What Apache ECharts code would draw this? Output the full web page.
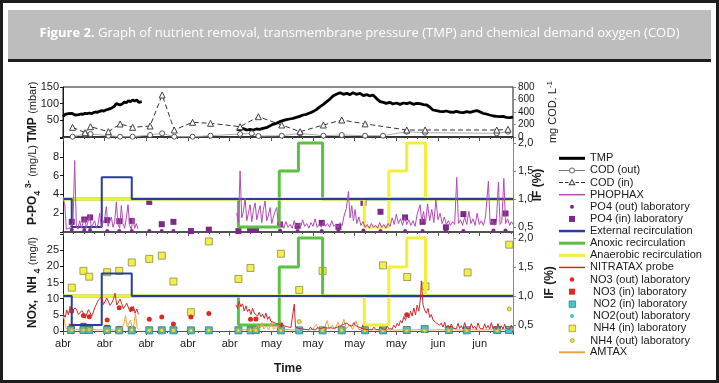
<!DOCTYPE html>
<html>
<head>
<meta charset="utf-8">
<script src="https://cdn.jsdelivr.net/npm/echarts@6/dist/echarts.min.js"></script>
<style>
html, body { margin: 0; padding: 0; background: #fff; }
#chart { width: 719px; height: 383px; }
</style>
</head>
<body>
<div id="chart"></div>
<script>
var myChart = echarts.init(document.getElementById('chart'));

// x positions are days from the first 'abr' tick
var tickLabels = ['abr', 'abr', 'abr', 'abr', 'abr', 'may', 'may', 'may', 'may', 'jun', 'jun'];

// TMP (mbar), two probe periods
var tmp1 = [[0,61],[0.5,68],[0.9,72],[1.3,70],[1.7,73],[2.1,71],[2.5,68],[2.9,66],[3.3,64],[3.8,67],[4.3,69],[4.8,68],[5.3,71],[5.8,70],[6.3,72],[6.8,70],[7.3,73],[7.8,75],[8.3,74],[8.8,77],[9.3,79],[9.8,78],[10.3,81],[10.8,83],[11.3,85],[11.8,88],[12.3,92],[12.8,100],[13.2,94],[13.7,96],[14.2,99],[14.7,105],[15.2,103],[15.7,109],[16.2,106],[16.7,111],[17.2,108],[17.7,111],[18.2,104],[18.9,106]];
var tmp2 = [[41.7,23],[42.5,22],[43.3,25],[44.1,21],[44.9,23],[45.6,21],[46.4,24],[47.2,23],[48,26],[48.8,28],[49.6,33],[50.4,38],[51.2,41],[52,46],[52.8,49],[53.6,52],[54.4,54],[55.2,56],[56,59],[56.8,62],[57.6,66],[58.4,68],[59.2,72],[60,76],[60.8,82],[61.7,91],[62.5,98],[63.3,106],[64,113],[64.8,123],[65.6,128],[66.5,133],[67.3,128],[68.1,131],[68.9,127],[69.6,133],[70.4,128],[71.3,131],[72.1,124],[72.9,127],[73.7,123],[74.4,126],[75.2,116],[76.1,106],[76.9,104],[77.6,101],[78.4,104],[79.2,99],[80,102],[80.9,98],[81.7,102],[82.5,100],[83.3,103],[84.1,98],[84.9,101],[85.7,100],[86.5,97],[87.3,96],[88,90],[88.8,81],[89.6,79],[90.4,77],[91.2,76],[92,78],[92.8,75],[93.6,74],[94.4,77],[95.3,74],[96.1,73],[96.9,76],[97.7,74],[98.5,77],[99.3,79],[100,76],[100.8,71],[101.6,69],[102.4,66],[103.3,63],[104.1,62],[104.9,61],[105.6,62],[106.4,59],[107.3,58],[108,60]];

// COD (mg/L)
var codIn = [[2.3,155],[5.3,69],[6.6,165],[10.9,85],[13.7,208],[16.7,155],[20.9,176],[23.8,672],[26.7,112],[31.1,235],[35.4,219],[42.5,165],[46.9,325],[52.5,192],[56.9,85],[62.5,192],[66.9,272],[72.5,210],[82.5,112],[86.9,112],[104.1,112],[106.8,123]];
var codOut = [[2.3,5],[5.3,48],[6.6,48],[10.9,21],[13.7,5],[16.7,5],[20.9,32],[23.8,59],[26.7,5],[31.1,5],[35.4,21],[42.5,48],[45.3,59],[46.9,16],[52.5,21],[56.9,59],[62.5,21],[66.9,32],[72.5,21],[76.8,21],[82.5,85],[86.9,69],[104.1,59],[106.8,85]];

// PHOPHAX probe P-PO4 (mg/L)
var phophax1 = [[0,3.6],[0.4,3.0],[0.8,0.3],[1.2,0.2],[1.6,0.4],[2.0,0.3],[2.4,1.0],[2.8,7.6],[3.2,0.6],[3.6,0.3],[4.0,1.2],[4.4,0.4],[4.8,0.3],[5.2,1.5],[5.6,0.4],[6.0,0.6],[6.4,1.8],[6.8,0.5],[7.2,0.3],[7.6,1.2],[8.0,0.4],[8.4,0.8],[8.8,2.0],[9.2,0.5],[9.6,0.3],[10.0,1.4],[10.4,2.7],[10.8,0.6],[11.2,0.4],[11.6,1.6],[12.0,0.5],[12.4,1.1],[12.8,3.2],[13.2,0.8],[13.6,0.4],[14.0,2.8],[14.4,0.9],[14.8,0.4],[15.2,1.5],[15.6,2.9],[16.0,0.7],[16.4,0.3],[16.8,1.5],[17.2,0.4],[17.6,0.9],[18.0,0.3]];
var phophax2 = [[41.7,2.0],[42.1,1.0],[42.5,6.5],[42.9,1.5],[43.3,2.2],[43.7,3.6],[44.1,1.2],[44.5,2.0],[44.9,2.9],[45.3,1.1],[45.7,2.3],[46.1,3.1],[46.5,1.3],[46.9,2.1],[47.3,2.8],[47.7,1.0],[48.1,2.4],[48.5,3.3],[48.9,1.2],[49.3,1.8],[49.7,2.6],[50.1,0.9],[50.5,1.6],[50.9,2.2],[51.3,2.6],[51.7,0.7],[52.1,0.5],[52.5,0.9],[53.0,0.4],[53.5,1.1],[54.0,0.5],[54.5,0.8],[55.0,0.4],[55.5,1.2],[56.0,0.6],[56.5,0.9],[57.0,0.5],[57.5,1.3],[58.0,0.6],[58.5,0.9],[59.0,0.4],[59.5,1.0],[60.0,0.6],[60.5,1.4],[61.0,0.5],[61.5,0.8],[62.0,0.5],[62.5,1.1],[63.0,0.6],[63.5,0.9],[64.0,0.5],[64.5,1.2],[65.0,0.6],[65.5,0.8],[66.0,0.4],[66.5,1.0],[67.0,0.7],[67.5,1.8],[68.0,2.5],[68.5,4.3],[68.9,1.5],[69.3,2.8],[69.7,1.2],[70.1,2.4],[70.5,0.9],[71.0,1.6],[71.5,0.7],[72.0,1.1],[72.5,0.5],[73.0,0.8],[73.5,0.4],[74.0,0.9],[74.5,0.5],[75.0,0.7],[75.5,0.4],[76.0,1.0],[76.5,0.5],[77.0,0.8],[77.5,0.4],[78.0,0.9],[78.5,0.6],[79.0,1.5],[79.5,0.8],[80.0,1.9],[80.5,0.9],[81.0,1.4],[81.5,0.7],[82.0,1.6],[82.5,0.8],[83.0,1.3],[83.5,0.7],[84.0,1.2],[84.5,0.6],[85.0,1.9],[85.7,2.9],[86.1,1.0],[86.5,2.2],[87.0,0.9],[87.5,3.0],[88.0,1.2],[88.5,2.4],[89.0,1.0],[89.5,3.4],[90.0,1.3],[90.5,2.0],[91.0,0.9],[91.5,1.6],[92.0,0.8],[92.5,1.2],[93.0,0.7],[93.5,1.1],[94.0,0.8],[94.5,5.8],[94.9,0.9],[95.4,1.3],[95.9,0.7],[96.4,1.6],[96.9,0.8],[97.4,2.2],[97.9,0.9],[98.4,1.4],[98.9,0.7],[99.4,2.0],[99.9,0.8],[100.4,1.2],[100.9,0.7],[101.4,1.6],[102.1,5.4],[102.5,0.8],[103.0,1.2],[103.5,0.7],[104.0,1.0],[104.5,5.3],[104.9,0.8],[105.3,1.1],[105.8,5.7],[106.2,0.9],[106.7,1.4],[107.2,0.7],[107.6,1.1],[108,0.8]];

// laboratory P-PO4 (mg/L)
var po4In = [[2.1,1.08],[5.1,1.33],[6.5,1.55],[10.6,1.26],[13.5,1.15],[16.5,1.18],[20.7,3.2],[23.7,0.83],[26.5,1.08],[30.7,0.1],[35,0.25],[42.1,0.1],[44.9,0.2],[46.3,0.27],[52.1,0.8],[56.3,0.65],[62.1,0.97],[66.1,0.55],[72.1,3.1],[76.2,2.15],[82.1,1.55],[86.3,1.08],[91.9,0.5],[96.1,1.9],[103.3,1.08],[106.2,1.97]];
var po4Out = [[2.1,0.25],[5.1,0.2],[6.5,0.2],[10.6,0.1],[13.5,0.1],[16.5,0.1],[20.7,0.1],[23.7,0.1],[26.5,0.1],[30.7,0.1],[35,0.2],[42.1,0.15],[44.9,0.1],[46.3,0.2],[52.1,0.15],[56.3,0.1],[62.1,0.1],[66.1,0.1],[72.1,0.15],[76.2,0.1],[82.1,0.1],[86.3,0.1],[91.9,0.1],[96.1,0.1],[103.3,0.15],[106.2,0.15]];

// recirculation flows IF (%), change days and level after each change
var extDays = [0, 2.1, 9.3, 16.5, 108];
var extIF = [1.0, 0.5, 1.39, 1.0, 1.0];
var anoxDays = [0, 42.1, 51.9, 56.5, 62.3, 108];
var anoxIF = [1.0, 0.5, 1.5, 2.0, 1.0, 1.0];
var anaerDays = [0, 72.3, 78.2, 82.5, 87.0, 108];
var anaerIF = [1.0, 0.5, 1.5, 2.0, 1.0, 1.0];

// NITRATAX probe NOx (mg/L)
var nitratax1 = [[0,5.5],[0.5,4.2],[0.9,6.5],[1.3,5.0],[1.7,7.6],[2.1,5.8],[2.5,5.6],[2.9,7.2],[3.3,6.5],[3.7,5.1],[4.1,4.8],[4.5,6.3],[4.9,5.6],[5.3,3.9],[5.7,4.3],[6.1,6.6],[6.5,6.0],[6.9,4.6],[7.3,4.8],[7.7,7.4],[8.1,7.0],[8.5,9.6],[8.9,9.6],[9.3,10.6],[9.7,8.2],[10.1,8.7],[10.5,10.2],[10.9,10.6],[11.3,7.9],[11.7,8.7],[12.1,9.8],[12.5,11.7],[12.9,8.0],[13.3,8.3],[13.7,9.9],[14.1,9.3],[14.5,6.9],[14.9,7.2],[15.3,8.6],[15.7,8.3],[16.1,5.9],[16.5,6.4],[16.9,7.6],[17.3,5.5],[17.7,6.8],[18.1,5.2]];
var nitratax2 = [[41.5,8.1],[41.9,7.0],[42.3,9.1],[42.7,7.5],[43.1,8.4],[43.5,6.2],[43.9,7.8],[44.3,6.0],[44.7,6.8],[45.1,5.1],[45.5,7.0],[45.9,5.5],[46.3,6.1],[46.7,4.6],[47.1,5.8],[47.5,4.4],[47.9,5.2],[48.3,3.9],[48.7,5.5],[49.1,3.6],[49.5,4.5],[49.9,3.0],[50.3,3.4],[50.7,2.6],[51.1,3.1],[51.5,2.2],[51.9,2.7],[52.3,1.9],[52.7,2.4],[53.1,1.6],[53.5,2.0],[53.9,1.3],[54.3,1.8],[54.7,1.1],[55.1,1.5],[55.5,8.3],[55.8,1.2],[56.2,1.6],[56.6,0.8],[57.0,1.3],[57.4,0.6],[57.8,1.1],[58.2,0.5],[58.6,0.9],[59.0,0.4],[59.4,1.2],[59.8,0.5],[60.2,0.9],[60.6,0.3],[61.0,1.0],[61.4,0.5],[61.8,0.8],[62.2,0.3],[62.6,1.1],[63.0,0.5],[63.4,0.9],[63.8,0.4],[64.2,1.0],[64.6,0.5],[65.0,0.8],[65.4,0.6],[65.8,1.2],[66.2,0.9],[66.6,1.6],[67.0,1.2],[67.4,2.1],[67.8,1.6],[68.2,2.5],[68.6,1.8],[69.0,2.3],[69.4,1.5],[69.8,2.6],[70.2,1.7],[70.6,2.0],[71.0,1.2],[71.4,1.5],[71.8,0.8],[72.2,1.2],[72.6,0.5],[73.0,0.9],[73.4,0.4],[73.8,0.8],[74.2,0.4],[74.6,1.2],[75.0,0.5],[75.4,0.9],[75.8,0.4],[76.2,1.3],[76.6,0.6],[77.0,1.0],[77.4,0.5],[77.8,1.5],[78.2,0.7],[78.6,1.1],[79.0,0.6],[79.4,1.8],[79.8,1.0],[80.2,2.4],[80.6,1.6],[81.0,3.2],[81.4,2.5],[81.8,4.5],[82.2,3.3],[82.6,5.5],[83.0,4.0],[83.4,6.2],[83.8,4.6],[84.2,7.1],[84.6,5.0],[85.0,8.0],[85.4,6.1],[85.8,10.2],[86.0,15.5],[86.4,8.1],[86.8,6.4],[87.2,5.5],[87.6,7.0],[88.0,4.2],[88.4,5.1],[88.8,3.4],[89.2,4.0],[89.6,2.5],[90.0,3.1],[90.4,1.8],[90.8,2.5],[91.2,1.2],[91.6,2.7],[92.0,1.0],[92.4,1.8],[92.8,0.8],[93.2,2.2],[93.6,0.9],[94.0,1.5],[94.4,0.7],[94.8,2.4],[95.2,0.8],[95.6,1.6],[96.0,0.6],[96.4,2.6],[96.8,0.9],[97.2,1.4],[97.6,0.6],[98.0,2.3],[98.4,0.8],[98.8,1.5],[99.2,0.5],[99.6,2.5],[100.0,0.9],[100.4,1.3],[100.8,0.6],[101.2,2.2],[101.6,0.8],[102.0,1.7],[102.4,0.6],[102.8,2.6],[103.2,0.7],[103.6,1.4],[104.0,0.5],[104.4,2.3],[104.8,0.8],[105.2,1.6],[105.6,0.6],[106.0,2.1],[106.4,0.7],[106.8,1.2],[107.2,0.5],[107.6,1.8],[108.0,1.0]];

// AMTAX probe NH4 (mg/L)
var amtax1 = [[0,4.7],[0.3,3.6],[0.6,1.2],[1.0,0.4],[2,0.3],[3,0.5],[4,0.3],[5,0.4],[6,0.3],[7,0.6],[8,0.3],[9,0.4],[10,0.3],[11,0.5],[12,0.3],[13,0.4],[14,0.6],[14.6,2.2],[15.0,4.8],[15.4,1.2],[15.8,0.6],[16.2,3.4],[16.6,0.8],[17.0,2.0],[17.4,5.3],[17.8,1.0],[18.2,0.4]];
var amtax2 = [[41.5,0.3],[43,0.4],[44.5,0.3],[46,0.6],[46.8,1.8],[47.2,0.5],[47.8,2.6],[48.2,0.6],[48.8,1.5],[49.4,0.4],[50.0,2.9],[50.5,0.5],[51.2,1.6],[52,0.4],[53,0.3],[54,0.5],[55,0.3],[56,0.4],[57,0.3],[58,0.5],[59,0.3],[60,0.6],[60.8,2.1],[61.3,0.5],[62,1.4],[62.6,0.4],[63.4,3.2],[63.9,0.6],[64.6,1.8],[65.2,0.5],[66,2.7],[66.6,0.6],[67.4,3.6],[68,0.7],[68.8,2.0],[69.5,0.5],[70.3,3.1],[71,0.5],[72,0.3],[74,0.4],[76,0.3],[78,0.4],[80,0.3],[82,0.4],[84,0.3],[86,0.5],[88,0.3],[90,0.4],[92,0.3],[94,0.4],[96,0.3],[98,0.4],[100,0.3],[102,0.4],[104,0.3],[106,0.5],[108,0.4]];

// laboratory N (mg/L)
var nh4In = [[2.1,13.4],[4.9,18.6],[6.3,16.8],[10.6,18.2],[13.5,18.6],[16.5,21.2],[20.7,22.3],[23.7,23.3],[26.5,15.3],[30.7,5.8],[35,27.7],[42.1,16.1],[45,19.5],[52.3,23.9],[56.7,12.7],[62.3,18.6],[76.8,20.3],[82.6,16.7],[87,13.8],[97.1,18.1],[107.1,26.7]];
var nh4Out = [[2.1,0.3],[4.9,0.3],[6.3,0.4],[10.6,0.2],[13.5,0.2],[16.5,0.3],[20.7,0.2],[23.7,0.2],[26.5,0.2],[30.7,0.2],[35,0.2],[42.1,0.2],[45,0.3],[46.3,0.2],[52.3,0.2],[56.7,2.9],[62.3,0.2],[66.9,0.2],[72.5,0.2],[76.8,0.2],[82.5,0.2],[86.8,0.2],[92.6,0.2],[96.9,0.2],[104.2,0.2],[107.1,6.8]];
var no3Out = [[2.1,6.2],[4.9,4.8],[6.3,4.4],[10.6,3.4],[13.5,7.2],[16.5,6.8],[20.7,3.6],[23.7,4.3],[26.5,2.2],[30.7,4.3],[35,5.4],[42.1,0.5],[45,3.6],[46.3,3.7],[52.3,1.9],[56.7,0.4],[62.3,0.3],[66.9,0.8],[72.5,0.8],[76.8,0.5],[82.5,5.0],[86.8,0.6],[92.6,0.4],[96.9,0.5],[104.2,0.4],[107,0.5]];
var no3In = [[2.1,1.3],[4.9,1.6],[6.3,0.9],[10.6,1.0],[13.5,0.6],[16.5,0.5],[20.7,0.4],[23.7,0.4],[26.5,0.4],[30.7,0.3],[35,0.3],[42.1,0.4],[45,0.8],[46.3,1.0],[52.3,0.3],[56.7,0.3],[62.3,0.3],[66.9,0.3],[72.5,1.0],[76.8,0.4],[82.5,0.4],[86.8,0.5],[92.6,0.4],[96.9,0.4],[104.2,0.4],[107,0.4]];
var no2In = [[1.9,0.3],[4.9,0.3],[6.3,0.3],[10.6,0.3],[13.5,0.2],[16.5,0.2],[20.7,0.2],[23.7,0.2],[26.5,0.2],[30.7,0.2],[35,0.2],[42.1,0.2],[45,0.2],[46.3,0.3],[52.3,0.2],[56.7,0.2],[62.3,0.2],[66.9,0.2],[72.5,0.2],[76.8,0.2],[82.5,0.3],[86.8,0.6],[92.6,0.3],[96.9,0.2],[104.2,0.3],[107,0.3]];
var no2Out = [[1.9,0.1],[4.9,0.1],[6.3,0.1],[10.6,0.1],[13.5,0.1],[16.5,0.1],[20.7,0.1],[23.7,0.1],[26.5,0.1],[30.7,0.1],[35,0.1],[42.1,0.1],[45,0.1],[46.3,0.1],[52.3,0.1],[56.7,0.1],[62.3,0.1],[66.9,0.1],[72.5,0.1],[76.8,0.1],[82.5,0.1],[86.8,0.1],[92.6,0.1],[96.9,0.1],[104.2,0.1],[107,0.1]];

var gap = [[30, '-']];
function steps(days, vals) {
    return days.map(function (d, i) { return [d, vals[i]]; });
}
function fmtIF(v) { return v.toFixed(1).replace('.', ','); }

var font = 'Liberation Sans';
var ink = '#1a1a1a';
var blue = '#2b3d9c', green = '#5cc043', yellow = '#f2ef3a';
var magenta = '#b44bb6', purple = '#7b2a86', red = '#d92b22', redLine = '#cc2a2a';
var cyan = '#46c3cb', cyanEdge = '#2b7f88', nhYellow = '#f4ef45', nhEdge = '#8c8a55', orange = '#f0a346';

function xAx(grid, last) {
    return {
        gridIndex: grid, type: 'value', min: 0, max: 108, interval: 10,
        axisLine: { lineStyle: { color: last ? '#555' : ink, width: last ? 1 : 1.5 } },
        axisTick: { length: 4, lineStyle: { color: '#555' } },
        minorTick: { show: true, splitNumber: 4, length: 2, lineStyle: { color: '#555' } },
        splitLine: { show: false },
        axisLabel: last ? {
            fontFamily: font, fontSize: 11, color: ink, margin: 7, showMaxLabel: false,
            formatter: function (v) {
                var i = Math.round(v / 10);
                return Math.abs(v - i * 10) < 0.01 && tickLabels[i] ? tickLabels[i] : '';
            }
        } : { show: false },
        name: last ? 'Time' : '', nameLocation: 'middle', nameGap: 32, nameMoveOverlap: false,
        nameTextStyle: { fontFamily: font, fontSize: 12, fontWeight: 'bold', color: ink }
    };
}

var nameRich = {
    b: { fontFamily: font, fontSize: 12, fontWeight: 'bold', color: ink, lineHeight: 18 },
    n: { fontFamily: font, fontSize: 11, color: ink, lineHeight: 18 },
    sub: { fontFamily: font, fontSize: 9, fontWeight: 'bold', color: ink, lineHeight: 9, verticalAlign: 'bottom' },
    sup: { fontFamily: font, fontSize: 9, fontWeight: 'bold', color: ink, lineHeight: 9, verticalAlign: 'top' }
};

function leftY(grid, max, interval, name, hide) {
    return {
        gridIndex: grid, type: 'value', min: 0, max: max, interval: interval,
        axisLine: { show: true, lineStyle: { color: ink } },
        axisTick: { show: true, length: 3, lineStyle: { color: ink } },
        splitLine: { show: false },
        axisLabel: {
            fontFamily: font, fontSize: 11, color: ink, margin: 4,
            formatter: function (v) { return hide.indexOf(v) > -1 ? '' : v; }
        },
        name: name, nameLocation: 'middle', nameRotate: 90, nameGap: 21, nameMoveOverlap: false,
        nameTextStyle: { rich: nameRich }
    };
}

function rightIF(grid, min, max, gapName) {
    return {
        gridIndex: grid, type: 'value', position: 'right', min: min, max: max,
        axisLine: { show: true, lineStyle: { color: '#888' } },
        axisTick: { show: true, length: 3, lineStyle: { color: '#888' }, customValues: [0.5, 1, 1.5, 2] },
        splitLine: { show: false },
        axisLabel: { fontFamily: font, fontSize: 11, color: ink, margin: 5, customValues: [0.5, 1, 1.5, 2], formatter: fmtIF },
        name: '{b|IF (%)}', nameLocation: 'middle', nameRotate: 90, nameGap: gapName, nameMoveOverlap: false,
        nameTextStyle: { rich: { b: { fontFamily: font, fontSize: 12, fontWeight: 'bold', color: ink, lineHeight: 14 } } }
    };
}

function stepLine(name, days, vals, color, width, xi, yi) {
    return { name: name, type: 'line', xAxisIndex: xi, yAxisIndex: yi, step: 'end', symbol: 'none',
        data: steps(days, vals), lineStyle: { color: color, width: width }, itemStyle: { color: color } };
}
function probe(name, data, color, xi, yi) {
    return { name: name, type: 'line', xAxisIndex: xi, yAxisIndex: yi, symbol: 'none', data: data,
        lineStyle: { color: color, width: 1 }, itemStyle: { color: color } };
}
function dots(name, data, symbol, size, color, border, xi, yi) {
    return { name: name, type: 'scatter', xAxisIndex: xi, yAxisIndex: yi, symbol: symbol, symbolSize: size, data: data,
        itemStyle: { color: color, borderColor: border || color, borderWidth: border ? 0.8 : 0, opacity: 1 } };
}

// legend icons drawn in a 26x12 box so every row lines up the same way
function barIcon(t) {
    return 'path://M0,0M26,12M0,' + (6 - t / 2) + 'H26V' + (6 + t / 2) + 'H0Z';
}
function dotIcon(r) {
    return 'path://M0,0M26,12M' + (13 - r) + ',6a' + r + ',' + r + ' 0 1,0 ' + (2 * r) + ',0a' + r + ',' + r + ' 0 1,0 ' + (-2 * r) + ',0Z';
}
function squareIcon(s) {
    return 'path://M0,0M26,12M' + (13 - s / 2) + ',' + (6 - s / 2) + 'h' + s + 'v' + s + 'h' + (-s) + 'Z';
}
var codOutIcon = 'path://M0,0M26,12M0,5.5H10V6.5H0Z M16,5.5H26V6.5H16Z M10,6a3,3 0 1,0 6,0a3,3 0 1,0 -6,0Z M11,6a2,2 0 1,1 4,0a2,2 0 1,1 -4,0Z';
var codInIcon = 'path://M0,0M26,12M0,5.5H4V6.5H0Z M6,5.5H9.5V6.5H6Z M16.5,5.5H20V6.5H16.5Z M22,5.5H26V6.5H22Z M13,2.2L16.6,8.6L9.4,8.6Z M13,3.9L11.1,7.7L14.9,7.7Z';

var legendItems = [
    { name: 'TMP', icon: barIcon(3), color: '#000' },
    { name: 'COD (out)', icon: codOutIcon, color: '#777' },
    { name: 'COD (in)', icon: codInIcon, color: '#333' },
    { name: 'PHOPHAX', icon: barIcon(1.5), color: magenta },
    { name: 'PO4 (out) laboratory', icon: dotIcon(2), color: purple },
    { name: 'PO4 (in) laboratory', icon: squareIcon(6), color: purple },
    { name: 'External recirculation', icon: barIcon(2.5), color: blue },
    { name: 'Anoxic recirculation', icon: barIcon(3), color: green },
    { name: 'Anaerobic recirculation', icon: barIcon(3), color: yellow },
    { name: 'NITRATAX probe', icon: barIcon(1.5), color: redLine },
    { name: 'NO3 (out) laboratory', icon: dotIcon(2.2), color: red },
    { name: ' NO3 (in) laboratory', icon: squareIcon(6), color: red },
    { name: ' NO2 (in) laboratory', icon: squareIcon(6.5), color: cyan, border: cyanEdge },
    { name: ' NO2(out) laboratory', icon: dotIcon(2), color: cyan },
    { name: ' NH4 (in) laboratory', icon: squareIcon(6.5), color: nhYellow, border: nhEdge },
    { name: 'NH4 (out) laboratory', icon: dotIcon(2), color: '#ece432', border: '#9a9640' },
    { name: 'AMTAX', icon: barIcon(2), color: orange }
];
var legends = legendItems.map(function (it, i) {
    return {
        left: 559, top: 152.3 + i * 12.125, orient: 'vertical', padding: 0, itemGap: 0,
        itemWidth: 26, itemHeight: 12, selectedMode: false, symbolKeepAspect: false,
        icon: it.icon,
        itemStyle: { color: it.color, borderColor: it.border || it.color, borderWidth: it.border ? 0.7 : 0 },
        textStyle: { fontFamily: font, fontSize: 11, lineHeight: 12, color: ink },
        data: [it.name]
    };
});

var option = {
    animation: false,
    backgroundColor: '#fff',
    graphic: [
        { type: 'rect', z: 0, shape: { x: 1.5, y: 1.5, width: 716, height: 380 }, style: { fill: 'none', stroke: '#1c1c1c', lineWidth: 3 } },
        { type: 'rect', z: 0, shape: { x: 8, y: 10, width: 703, height: 49 }, style: { fill: '#bdbdbd' } },
        { type: 'rect', z: 0, shape: { x: 8, y: 59, width: 703, height: 3 }, style: { fill: '#1e1e1e' } }
    ],
    title: {
        text: '{b|Figure 2.} Graph of nutrient removal, transmembrane pressure (TMP) and chemical demand oxygen (COD)',
        left: 'center', top: 27, padding: 0,
        textStyle: {
            fontFamily: 'Open Sans', fontSize: 13, fontWeight: 'normal', color: '#fff',
            rich: { b: { fontFamily: 'Open Sans', fontSize: 13, fontWeight: 'bold', color: '#fff' } }
        }
    },
    legend: legends,
    grid: [
        { left: 63, top: 87, width: 450, height: 50, show: true, borderColor: ink, borderWidth: 1 },
        { left: 63, top: 138, width: 450, height: 94 },
        { left: 63, top: 234, width: 450, height: 97 }
    ],
    xAxis: [xAx(0, false), xAx(1, false), xAx(2, true)],
    yAxis: [
        leftY(0, 150, 50, '{b|TMP} {n|(mbar)}', [0]),
        {
            gridIndex: 0, type: 'value', position: 'right', min: 0, max: 800, interval: 200,
            axisLine: { show: true, lineStyle: { color: '#888' } },
            axisTick: { show: true, length: 3, lineStyle: { color: '#888' } },
            splitLine: { show: false },
            axisLabel: { fontFamily: font, fontSize: 10, color: ink, margin: 5 },
            name: '{n|mg COD. L}{sup|-1}', nameLocation: 'middle', nameRotate: 90, nameGap: 33, nameMoveOverlap: false,
            nameTextStyle: { rich: {
                n: { fontFamily: font, fontSize: 11, color: ink, lineHeight: 14 },
                sup: { fontFamily: font, fontSize: 8, color: ink, lineHeight: 8, verticalAlign: 'top' }
            } }
        },
        leftY(1, 10, 2, '{b|P-PO}{sub|4}{sup| 3-} {n|(mg/L)}', [0, 10]),
        rightIF(1, 0.41, 2.09, 18),
        leftY(2, 30, 5, '{b|NOx,  NH}{sub| 4} {n|(mg/l)}', [30]),
        rightIF(2, 0.397, 2.069, 30)
    ],
    series: [
        {
            name: 'COD (out)', type: 'line', xAxisIndex: 0, yAxisIndex: 1, data: codOut,
            symbol: 'circle', symbolSize: 5,
            lineStyle: { color: '#aaa', width: 1 },
            itemStyle: { color: '#fff', borderColor: '#555', borderWidth: 1 }
        },
        {
            name: 'COD (in)', type: 'line', xAxisIndex: 0, yAxisIndex: 1, data: codIn,
            symbol: 'triangle', symbolSize: 6,
            lineStyle: { color: '#333', width: 1, type: [5, 3] },
            itemStyle: { color: '#fff', borderColor: '#444', borderWidth: 1 }
        },
        {
            name: 'TMP', type: 'line', xAxisIndex: 0, yAxisIndex: 0, symbol: 'none',
            data: tmp1.concat(gap, tmp2),
            lineStyle: { color: '#000', width: 2.8 }, itemStyle: { color: '#000' }
        },

        stepLine('Anoxic recirculation', anoxDays, anoxIF, green, 3, 1, 3),
        stepLine('Anaerobic recirculation', anaerDays, anaerIF, yellow, 3, 1, 3),
        stepLine('External recirculation', extDays, extIF, blue, 2, 1, 3),
        probe('PHOPHAX', phophax1.concat(gap, phophax2), magenta, 1, 2),
        dots('PO4 (in) laboratory', po4In, 'rect', 6, purple, null, 1, 2),
        dots('PO4 (out) laboratory', po4Out, 'circle', 4, purple, null, 1, 2),

        stepLine('Anoxic recirculation', anoxDays, anoxIF, green, 3, 2, 5),
        stepLine('Anaerobic recirculation', anaerDays, anaerIF, yellow, 3, 2, 5),
        stepLine('External recirculation', extDays, extIF, blue, 2, 2, 5),
        probe('AMTAX', amtax1.concat(gap, amtax2), orange, 2, 4),
        probe('NITRATAX probe', nitratax1.concat(gap, nitratax2), redLine, 2, 4),
        dots(' NH4 (in) laboratory', nh4In, 'rect', 7, nhYellow, nhEdge, 2, 4),
        dots('NO3 (out) laboratory', no3Out, 'circle', 5, red, null, 2, 4),
        dots(' NO3 (in) laboratory', no3In, 'rect', 6, red, null, 2, 4),
        dots(' NO2 (in) laboratory', no2In, 'rect', 7, cyan, cyanEdge, 2, 4),
        dots(' NO2(out) laboratory', no2Out, 'circle', 4, cyan, null, 2, 4),
        dots('NH4 (out) laboratory', nh4Out, 'circle', 4, '#ece432', '#9a9640', 2, 4)
    ]
};

myChart.setOption(option);
</script>
</body>
</html>
